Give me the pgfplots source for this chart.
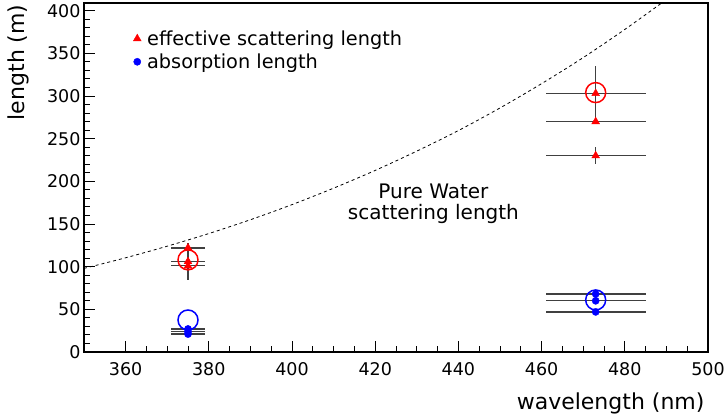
\documentclass[border=0pt]{standalone}
\usepackage{fontspec}
\setmainfont{DejaVu Sans}
\usepackage{pgfplots}
\pgfplotsset{compat=1.18}

\begin{document}
\begin{tikzpicture}
\begin{axis}[
  scale only axis,
  width=624bp, height=349bp,
  xmin=350, xmax=500,
  ymin=0, ymax=409,
  xtick={360,380,...,500},
  ytick={0,50,...,400},
  minor x tick num=3,
  minor y tick num=4,
  tick pos=left,
  tick align=inside,
  major tick length=11bp,
  minor tick length=6bp,
  axis line style={line width=1.3bp},
  every tick/.style={black, line width=0.9bp},
  /pgf/number format/assume math mode=true,
  tick label style={font=\fontsize{17.5bp}{21bp}\selectfont},
  xticklabel style={yshift=-7bp},
  xlabel={wavelength (nm)},
  ylabel={length (m)},
  label style={font=\fontsize{22bp}{26bp}\selectfont},
  xlabel style={at={(axis description cs:1,-0.146)}, anchor=east},
  ylabel style={at={(axis description cs:-0.105,1.006)}, anchor=east, rotate=0},
  legend style={at={(axis description cs:0.074,0.933)}, anchor=north west,
    draw=none, fill=none, font=\fontsize{19.3bp}{22bp}\selectfont,
    row sep=3bp, column sep=4bp},
  legend cell align=left,
  error bars/error bar style={draw=black!75, line width=1.3bp},
  error bars/error mark=none,
]
% effective scattering length
\addplot[only marks, mark=triangle*, mark size=4.5bp, color=red,
  error bars/.cd, x dir=both, x explicit, y dir=both, y explicit]
  table[x=x, y=y, x error=ex, y error=ey] {
  x    y    ex  ey
  375  122  4   0
  375  106  4   22
  375  101  4   0
  473  303  12  32
  473  270  12  0
  473  230  12  10
};
\addlegendentry{effective scattering length}

% absorption length
\addplot[only marks, mark=*, mark size=3.6bp, color=blue,
  error bars/.cd, x dir=both, x explicit]
  table[x=x, y=y, x error=ex] {
  x    y    ex
  375  27   4
  375  24   4
  375  21   4
  473  68   12
  473  60   12
  473  47   12
};
\addlegendentry{absorption length}

% open circles
\addplot[forget plot, only marks, mark=o, mark size=10bp, color=red,
  mark options={line width=1.5bp}] coordinates {(375,108) (473,304)};
\addplot[forget plot, only marks, mark=o, mark size=10bp, color=blue,
  mark options={line width=1.5bp}] coordinates {(375,37.5) (473,61)};

% pure water scattering length
\addplot[forget plot, black, line width=0.8bp, dash pattern=on 3bp off 3bp, smooth]
  coordinates {
  (350,98) (360,110.4) (370,124) (380,138.8) (390,155) (400,172.7)
  (410,192) (420,212.8) (430,235.4) (440,259.5) (450,286) (460,314.5)
  (470,345) (480,378) (490,413)
};
\node[align=center, font=\fontsize{20bp}{21bp}\selectfont]
  at (axis cs:434,174) {Pure Water\\scattering length};
\end{axis}
\pgfresetboundingbox
\path[use as bounding box] (-84bp,-67bp) rectangle (641bp,352bp);
\end{tikzpicture}
\end{document}
